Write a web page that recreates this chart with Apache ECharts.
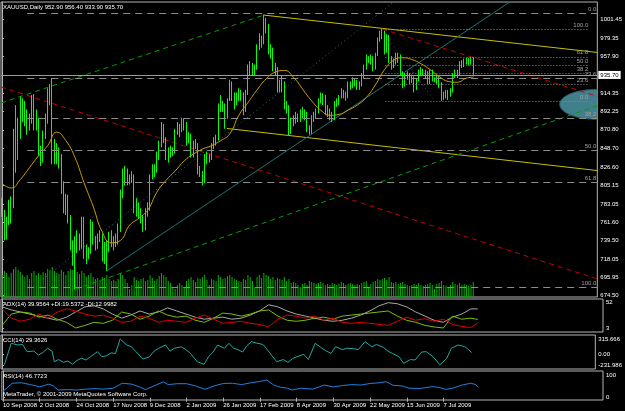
<!DOCTYPE html>
<html>
<head>
<meta charset="utf-8">
<script src="https://cdn.jsdelivr.net/npm/echarts@6/dist/echarts.min.js"></script>
<style>
html, body { margin: 0; padding: 0; background: #000; }
#chart { width: 625px; height: 411px; }
</style>
</head>
<body>
<div id="chart"></div>
<script>
// XAUUSD daily bars, 10 Sep 2008 .. 27 Jul 2009 (208 bars)
const opens = [
 785,774,745,764,785,780,865,850,866,905, 895,889,880,882,910,881,882,846,835,866,
 880,914,913,852,840,842,838,800,785,790, 766,735,720,736,742,735,764,722,725,726,
 758,740,735,744,746,720,732,730,745,737, 738,742,752,795,818,821,812,812,815,775,
 781,772,766,756,772,778,815,825,824,840, 855,872,860,838,846,845,845,870,875,870,
 882,878,857,865,841,855,853,822,820,810, 840,835,838,852,855,860,898,900,900,886,
 906,927,912,905,910,915,913,895,915,945, 948,940,945,970,980,975,1000,994,965,966,
 945,942,920,922,925,900,897,870,880,882, 885,884,888,892,890,872,868,885,888,892,
 905,912,910,893,890,890,885,902,903,910, 915,914,910,925,922,930,928,922,925,935,
 945,955,955,955,945,960,978,983,986,965, 981,955,947,950,960,958,938,925,935,935,
 930,932,920,930,940,940,940,938,927,940, 930,930,932,925,912,912,913,913,917,935,
 938,937,950,948,952,953,953,952.9
];
const highs = [
 790,776,768,788,792,872,900,885,910,908, 905,895,890,912,913,895,885,852,870,890,
 920,925,932,860,855,850,842,810,795,794, 770,740,745,752,748,768,768,735,732,765,
 762,745,748,752,748,738,740,750,752,745, 748,760,800,825,828,825,818,822,818,790,
 785,778,770,778,785,818,830,830,845,858, 880,878,862,850,852,850,872,880,878,885,
 884,880,868,866,858,860,855,828,822,842, 845,842,855,862,865,902,912,905,902,908,
 930,928,915,915,920,918,915,918,948,952, 950,948,972,985,982,1007,1003,996,972,968,
 950,945,930,935,928,905,900,885,888,892, 890,895,898,895,892,876,888,892,896,908,
 915,914,912,900,896,892,905,908,912,920, 918,916,928,928,933,932,930,928,938,948,
 960,958,960,958,962,980,988,990,988,984, 983,958,955,962,962,960,940,938,940,938,
 936,934,932,942,945,943,942,940,942,942, 933,935,934,927,916,918,918,920,938,942,
 942,952,953,955,956,956,957,956.4
];
const lows = [
 768,740,741,758,760,778,820,835,860,880, 875,865,870,878,870,870,840,828,832,860,
 878,900,830,830,830,825,795,772,770,760, 728,710,682,725,728,730,718,712,718,724,
 735,728,730,738,715,712,704,726,732,728, 732,735,750,790,805,805,806,808,772,768,
 765,760,750,752,768,775,812,815,820,835, 850,855,835,832,838,840,843,865,862,868,
 870,852,855,838,838,848,818,815,805,808, 830,832,835,848,852,858,892,892,872,884,
 905,905,895,900,905,905,888,892,912,935, 935,935,942,965,968,972,985,960,955,940,
 935,915,915,915,895,890,864,866,875,878, 880,880,884,882,868,865,866,880,884,890,
 902,900,888,886,882,880,882,898,900,908, 908,905,908,918,920,922,918,918,922,932,
 942,950,948,940,942,958,975,978,960,962, 950,942,944,948,950,935,920,922,930,925,
 926,915,918,928,935,935,932,925,925,928, 927,925,920,905,906,908,906,910,915,932,
 932,935,944,945,948,947,948,933.9
];
const closes = [
 774,745,764,785,780,865,850,866,905,895, 889,880,882,910,881,882,846,835,866,880,
 914,913,852,840,842,838,800,785,790,766, 735,720,736,742,735,764,722,725,726,758,
 740,735,744,746,720,732,730,745,737,738, 742,752,795,818,821,812,812,815,775,781,
 772,766,756,772,778,815,825,824,840,855, 872,860,838,846,845,845,870,875,870,882,
 878,857,865,841,855,853,822,820,810,840, 835,838,852,855,860,898,900,900,886,906,
 927,912,905,910,915,913,895,915,945,948, 940,945,970,980,975,1000,994,965,966,945,
 942,920,922,925,900,897,870,880,882,885, 884,888,892,890,872,868,885,888,892,905,
 912,910,893,890,890,885,902,903,910,915, 914,910,925,922,930,928,922,925,935,945,
 955,955,955,945,960,978,983,986,965,981, 955,947,950,960,958,938,925,935,935,930,
 932,920,930,940,940,940,938,927,940,930, 930,932,925,912,912,913,913,917,935,938,
 937,950,948,952,953,953,953,935.7
];
const volumes = [
 22,26,24,20,24,28,30,27,25,22,20,22,18,24,26,22,
 24,22,25,24,28,27,30,26,24,23,27,25,22,26,28,27,30,25,23,26,24,20,
 22,24,20,18,19,17,20,19,22,18,16,17,16,18,24,22,18,14,8,12,
 20,17,16,18,19,16,17,22,19,16,18,21,24,22,20,16,14,10,8,12,14,12,10,
 16,18,20,17,15,19,18,20,22,17,12,18,17,16,22,20,18,19,21,22,
 20,18,17,16,15,18,17,22,20,16,10,20,22,19,24,22,21,18,20,17,
 19,18,17,20,16,18,14,15,14,12,10,13,14,12,16,15,14,13,14,15,14,12,13,12,
 14,13,12,13,15,14,12,13,14,13,12,13,12,14,15,16,10,13,15,16,18,
 17,18,19,17,20,15,14,15,13,14,15,13,12,11,12,13,12,14,12,11,12,13,
 14,12,8,13,14,16,12,11,10,12,15,13,12,14,12,13,12,11,12,15
];

// moving average and ADX readings, sampled on these bar numbers
const sampleIdx = [0,4,8,12,16,20,24,28,32,36,40,44,48,52,56,60,64,68,72,76,80,84,88,92,96,100,
  104,108,112,116,120,124,128,132,136,140,144,148,152,156,160,164,168,172,176,180,184,188,192,196,200,204,207];
const maVals = [807,802,812,826,840,852,868,858,838,808,780,750,737,740,758,766,776,797,811,822,834,842,848,852,858,866,
  888,903,918,931,939,941,933,919,905,894,888,889,894,900,909,924,942,953,956,954,949,942,934,928,927,932,933];
const adx = [44,38,34,30,26,22,18,24,34,44,46,40,30,22,28,36,30,34,42,36,30,24,20,22,24,20,
  22,28,36,48,44,36,30,26,22,18,16,18,22,28,36,46,52,50,44,34,26,18,14,24,30,40,40];
const plusDI = [8,30,34,32,24,28,20,14,3,8,14,12,18,34,30,20,26,36,28,24,26,18,14,22,32,30,
  26,30,36,38,26,18,16,18,22,24,20,26,28,30,32,34,36,26,18,14,8,5,3,26,20,22,19.5];
const minusDI = [40,22,16,20,30,22,34,40,36,30,26,28,22,14,16,26,22,14,18,16,14,22,28,20,12,14,
  16,12,10,5,20,28,26,22,26,18,22,14,12,14,12,10,8,16,24,18,21,16,20,10,6,4,13];

// CCI and RSI readings
const cciIdx = [1,4,7,9,11,14,16,18,20,22,23,25,27,29,31,33,35,37,39,42,44,46,48,50,52,55,57,59,62,65,67,69,72,74,76,79,81,83,
  86,89,91,93,95,98,100,102,104,106,108,110,112,115,118,121,124,126,128,130,133,135,138,141,143,145,147,150,152,155,157,
  160,163,165,168,170,172,175,177,180,182,185,187,190,193,196,198,201,204,207];
const cciVals = [-225,224,188,200,47,60,-24,30,118,60,-165,-120,-180,-150,-220,-140,-90,-130,-60,47,-60,-40,20,10,315.666,188,150,47,-110,-60,60,118,188,60,120,150,90,12,
  -165,-220,-60,40,188,120,224,120,90,40,180,259,230,200,20,-165,-120,-180,-100,-60,-10,-120,224,120,60,10,153,90,120,110,90,
  259,150,200,140,60,10,-60,-200,-120,-130,40,47,-60,-231.986,-94,118,188,153,29.3626];
const rsiIdx = [0,4,8,12,16,20,22,24,28,32,36,40,44,48,52,56,60,62,64,68,70,72,76,80,84,88,92,96,100,104,108,112,115,118,121,124,126,
  130,135,140,144,148,152,156,160,164,167,170,174,177,182,187,190,193,196,200,204,206,207];
const rsiVals = [28,64,66,58,48,60,52,34,36,34,38,40,38,42,64,60,46,36,44,62,70,58,62,62,52,37,52,63,64,58,66,72,78,56,46,42,34,
  42,38,56,48,54,58,56,63,66,71,55,52,42,41,49,46,37,42,56,64,58,46.7723];

// time axis labels (bar number -> text)
const dateIdx = [0,16,32,48,64,80,96,112,128,144,160,176,192];
const dateText = ['10 Sep 2008','2 Oct 2008','24 Oct 2008','17 Nov 2008','9 Dec 2008','2 Jan 2009',
  '26 Jan 2009','17 Feb 2009','8 Apr 2009','30 Apr 2009','22 May 2009','15 Jun 2009','7 Jul 2009'];
const priceTicks = [1001.45,979.35,957.90,914.35,892.25,870.80,848.70,826.60,805.15,783.05,761.60,739.50,718.05,695.95,674.50];
const lastPrice = 935.70;

// drawn objects, in [bar, price]
const yellowLines = [[[115,1006.5],[261.5,962.3]], [[98.7,872.4],[261.5,822.6]]];
const greenLines = [[[-0.5,902.5],[115,1006.5]], [[32,682],[261.5,899.4]]];
const redLines = [[[-0.5,921.5],[261.5,694.4]], [[167,990],[261.5,910.4]]];
const tealSolid = [[46,704],[223,1022]];
const tealDotted = [[18,694],[172,1022]];
const darkDotted = [[170,977],[189.7,906]];
const fibLevels = ['0.0','23.6','38.2','50.0','61.8','100.0'];
const fibA = [1008.6,932.1,884.7,846.45,808.2,684.3];   // long dashes
const fibB = [904.8,924.8,937.2,947.2,957.2,989.6];     // dotted
const fibARange = [11,261.5];
const fibBRange = [168.4,258];
const ellipse = [260.5, 900.9, 15.5, 17.5];

const NBARS = 262;
const FONT = 'Liberation Sans';
const cats = [];
for (let i = 0; i < NBARS; i++) cats.push(i);
const ohlc = opens.map((o, i) => [o, closes[i], lows[i], highs[i]]);
const pairs = (vals) => sampleIdx.map((x, k) => [x, vals[k]]);
const zipXY = (xs, ys) => xs.map((x, k) => [x, ys[k]]);

const chart = echarts.init(document.getElementById('chart'), null, { renderer: 'canvas' });

const frame = '#b4b4b4';
const textC = '#ffffff';
const grids = [
  { left: 1, top: 2, width: 602, height: 295 },
  { left: 1, top: 299, width: 602, height: 33 },
  { left: 1, top: 335, width: 602, height: 34 },
  { left: 1, top: 371, width: 602, height: 29 }
].map(g => Object.assign(g, { show: true, borderColor: frame, borderWidth: 1, backgroundColor: 'transparent' }));

const hiddenX = (gi) => ({ type: 'value', gridIndex: gi, min: -0.5, max: NBARS - 0.5, show: false });

function sideAxis(gi, min, max, vals, fmt) {
  return {
    type: 'value', gridIndex: gi, position: 'right', min: min, max: max,
    splitLine: { show: false },
    axisLine: { show: true, lineStyle: { color: frame } },
    axisTick: { show: true, customValues: vals, length: 2, lineStyle: { color: frame } },
    axisLabel: { customValues: vals, color: textC, fontSize: 6, fontFamily: FONT, margin: 3,
      formatter: fmt || (v => v.toFixed(2)) }
  };
}

function segSeries(name, seg, color, type, width) {
  return {
    name: name, type: 'line', xAxisIndex: 4, yAxisIndex: 0, data: seg, symbol: 'none',
    silent: true, animation: false, z: 3,
    lineStyle: { color: color, width: width || 1, type: type }
  };
}

function fibSeries(levels, range, dash) {
  return {
    type: 'line', xAxisIndex: 4, yAxisIndex: 0, data: [], symbol: 'none', silent: true, z: 2,
    markLine: {
      symbol: 'none', silent: true, animation: false,
      lineStyle: { color: '#8c8c8c', width: 1, type: dash },
      label: { show: true, position: 'insideEndTop', distance: 1, color: '#a0a0a0', fontSize: 6, fontFamily: FONT,
        formatter: p => p.data.lvl },
      data: levels.map((v, k) => [{ coord: [range[0], v], lvl: fibLevels[k] }, { coord: [range[1], v] }])
    }
  };
}

const series = [
  {
    type: 'bar', xAxisIndex: 0, yAxisIndex: 1, data: volumes, barWidth: 1, silent: true, z: 1,
    itemStyle: { color: '#00b400' }
  },
  fibSeries(fibA, fibARange, [7, 5]),
  fibSeries(fibB, fibBRange, [1, 2]),
  {
    type: 'custom', xAxisIndex: 4, yAxisIndex: 0, data: [ellipse], silent: true, z: 2,
    renderItem: (params, api) => {
      const c = api.coord([api.value(0), api.value(1)]);
      const s = api.size([api.value(2), api.value(3)]);
      const cs = params.coordSys;
      return {
        type: 'ellipse', shape: { cx: c[0], cy: c[1], rx: s[0], ry: s[1] },
        style: { fill: '#427f8c', stroke: '#2c5f6c', lineWidth: 1 },
        clipPath: { type: 'rect', shape: { x: cs.x, y: cs.y, width: cs.width, height: cs.height } }
      };
    }
  },
  {
    type: 'candlestick', xAxisIndex: 0, yAxisIndex: 0, data: ohlc, barMaxWidth: 2, barMinWidth: 1, z: 4,
    itemStyle: { color: '#00ff00', color0: '#c06a00', borderColor: '#00ff00', borderColor0: '#00ff00', borderWidth: 1 },
    markLine: {
      symbol: 'none', silent: true, animation: false,
      lineStyle: { color: '#9a9a9a', width: 1, type: 'solid' },
      label: { show: true, position: 'end', distance: 1, formatter: lastPrice.toFixed(2), color: '#000',
        backgroundColor: '#fff', fontSize: 6, fontFamily: FONT, padding: [1, 2] },
      data: [{ yAxis: lastPrice }]
    }
  },
  {
    type: 'line', xAxisIndex: 4, yAxisIndex: 0, data: pairs(maVals), symbol: 'none', smooth: true, z: 5,
    lineStyle: { color: '#c8a000', width: 1 }
  },
  segSeries('y1', yellowLines[0], '#c8c000', 'solid'),
  segSeries('y2', yellowLines[1], '#c8c000', 'solid'),
  segSeries('g1', greenLines[0], '#00a000', [5, 4]),
  segSeries('g2', greenLines[1], '#00a000', [5, 4]),
  segSeries('r1', redLines[0], '#c80000', [5, 4]),
  segSeries('r2', redLines[1], '#c80000', [5, 4]),
  segSeries('t1', tealSolid, '#1d7373', 'solid'),
  segSeries('t2', tealDotted, '#1d7373', [1, 3]),
  segSeries('t3', darkDotted, '#1d5f66', [1, 3]),
  // ADX pane
  { type: 'line', xAxisIndex: 5, yAxisIndex: 2, data: pairs(adx), symbol: 'none', lineStyle: { color: '#a8a8a8', width: 1 } },
  { type: 'line', xAxisIndex: 5, yAxisIndex: 2, data: pairs(plusDI), symbol: 'none', lineStyle: { color: '#78c000', width: 1 } },
  { type: 'line', xAxisIndex: 5, yAxisIndex: 2, data: pairs(minusDI), symbol: 'none', lineStyle: { color: '#e00000', width: 1 } },
  // CCI pane
  { type: 'line', xAxisIndex: 6, yAxisIndex: 3, data: zipXY(cciIdx, cciVals), symbol: 'none', lineStyle: { color: '#20a8a0', width: 1 } },
  // RSI pane
  { type: 'line', xAxisIndex: 7, yAxisIndex: 4, data: zipXY(rsiIdx, rsiVals), symbol: 'none', lineStyle: { color: '#2080e0', width: 1 } }
];

const paneTitle = (text, top) => ({
  text: text, left: 3, top: top, padding: 0,
  textStyle: { color: textC, fontSize: 6, fontWeight: 'normal', fontFamily: FONT }
});

chart.setOption({
  backgroundColor: '#000',
  animation: false,
  title: [
    paneTitle('XAUUSD,Daily 952.90 956.40 933.90 935.70', 4),
    paneTitle('ADX(14) 39.9564 +DI:19.5372 -DI:12.9982', 301),
    paneTitle('CCI(14) 29.3626', 337),
    paneTitle('RSI(14) 46.7723', 373),
    paneTitle('MetaTrader, \u00a9 2001-2009 MetaQuotes Software Corp.', 391)
  ],
  grid: grids,
  xAxis: [
    { type: 'category', gridIndex: 0, data: cats, show: false, boundaryGap: true },
    hiddenX(1),
    hiddenX(2),
    {
      type: 'value', gridIndex: 3, min: -0.5, max: NBARS - 0.5,
      splitLine: { show: false },
      axisLine: { show: false },
      axisTick: { show: true, customValues: dateIdx, length: 4, lineStyle: { color: frame } },
      axisLabel: { customValues: dateIdx, color: textC, fontSize: 6, fontFamily: FONT, align: 'left', margin: 2,
        formatter: v => dateText[dateIdx.indexOf(Math.round(v))] || '' }
    },
    hiddenX(0),
    hiddenX(1),
    hiddenX(2),
    hiddenX(3)
  ],
  yAxis: [
    sideAxis(0, 673, 1022, priceTicks),
    { type: 'value', gridIndex: 0, min: 0, max: 295, show: false },
    sideAxis(1, -4.8, 59.2, [3, 52], v => String(Math.round(v))),
    sideAxis(2, -320, 400, [-231.986, 0, 315.666], v => (v === 0 ? '0.00' : v.toFixed(3))),
    sideAxis(3, -10, 118, [0, 100], v => String(Math.round(v)))
  ],
  series: series
});
</script>
</body>
</html>
